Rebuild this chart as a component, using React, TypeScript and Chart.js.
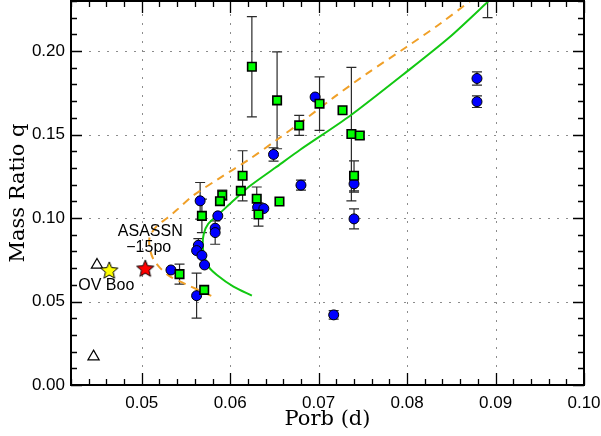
import { useEffect, useRef } from "react";
import { Chart, registerables } from "chart.js";

Chart.register(...registerables);

// ---- axis ticks ----
const xTicks = [0.05, 0.06, 0.07, 0.08, 0.09, 0.1];
const yTicks = [0.0, 0.05, 0.1, 0.15, 0.2];
const xMin = 0.042;
const xMax = 0.1;
const yMin = 0;
const yMax = 0.23;

// ---- blue circles: Porb, q, error ----
const blueP = [0.0879, 0.0879, 0.0696, 0.0649, 0.068, 0.0717, 0.074, 0.074, 0.0566, 0.0586, 0.0583, 0.0583, 0.0631, 0.0638, 0.0564, 0.0562, 0.0568, 0.0571, 0.0533, 0.0562];
const blueQ = [0.1836, 0.1697, 0.1725, 0.1381, 0.1197, 0.042, 0.1205, 0.0995, 0.1103, 0.1013, 0.0939, 0.0913, 0.1065, 0.1057, 0.0837, 0.0805, 0.0776, 0.0719, 0.0689, 0.0535];
const blueErr = [0.004, 0.0035, 0, 0.004, 0.003, 0.0025, 0.005, 0.006, 0.011, 0, 0, 0.007, 0, 0, 0.004, 0, 0, 0, 0, 0.0135];

// ---- green squares: Porb, q, error ----
const greenP = [0.06245, 0.0653, 0.0678, 0.0701, 0.0727, 0.0737, 0.07465, 0.074, 0.0614, 0.0612, 0.063, 0.0632, 0.06557, 0.0591, 0.05884, 0.0568, 0.05427, 0.05706, 0.0891];
const greenQ = [0.1906, 0.1705, 0.1555, 0.1685, 0.1646, 0.1503, 0.1494, 0.1253, 0.1253, 0.1163, 0.1116, 0.1021, 0.1099, 0.1137, 0.1101, 0.1013, 0.0664, 0.057, 0.245];
const greenErr = [0.03, 0.029, 0.006, 0.016, 0, 0.04, 0.002, 0.009, 0.015, 0, 0.007, 0.007, 0, 0.003, 0, 0.01, 0.006, 0, 0.025];

// ---- open triangles ----
const triP = [0.04494, 0.04455];
const triQ = [0.0719, 0.017];

// ---- stars ----
const redStarP = [0.0504];
const redStarQ = [0.07];
const yellowStarP = [0.04633];
const yellowStarQ = [0.0689];

// ---- model tracks ----
const greenCurveP = [0.06245, 0.06037, 0.0585, 0.05755, 0.05706, 0.05689, 0.05701, 0.05751, 0.05887, 0.06034, 0.06226, 0.06509, 0.06791, 0.07356, 0.07997, 0.08486, 0.08938];
const greenCurveQ = [0.0535, 0.0589, 0.0659, 0.0709, 0.0773, 0.0839, 0.0905, 0.0965, 0.1031, 0.1103, 0.1193, 0.1301, 0.1409, 0.1613, 0.1877, 0.2086, 0.2308];
const orangeCurveP = [0.05786, 0.05472, 0.05322, 0.05209, 0.0513, 0.0509, 0.0509, 0.05172, 0.05285, 0.05398, 0.05567, 0.05868, 0.06207, 0.06528, 0.06847, 0.07167, 0.07545, 0.07997, 0.08373, 0.08734];
const orangeCurveQ = [0.0534, 0.061, 0.0649, 0.07, 0.0755, 0.0821, 0.0887, 0.0953, 0.0999, 0.1049, 0.1129, 0.1235, 0.1349, 0.1469, 0.1592, 0.1721, 0.1865, 0.2026, 0.2164, 0.2308];

// ---- annotations ----
const noteText = ["ASASSN", "\u221215po", "OV Boo"];
const noteP = [0.05096, 0.05079, 0.04599];
const noteQ = [0.0917, 0.0821, 0.0594];

const xTitle = "Porb (d)";
const yTitle = "Mass Ratio q";

const pts = (xs: number[], ys: number[]) => xs.map((x, i) => ({ x, y: ys[i] }));

function makeStar(fill: string, R: number): HTMLCanvasElement {
  const c = document.createElement("canvas");
  const s = Math.ceil(2 * R + 4);
  c.width = s;
  c.height = s;
  const g = c.getContext("2d")!;
  const cx = s / 2;
  const cy = s / 2 + R * 0.1;
  g.beginPath();
  for (let k = 0; k < 10; k++) {
    const r = k % 2 ? R * 0.45 : R;
    const a = -Math.PI / 2 + (k * Math.PI) / 5;
    const px = cx + r * Math.cos(a);
    const py = cy + r * Math.sin(a);
    if (k === 0) g.moveTo(px, py);
    else g.lineTo(px, py);
  }
  g.closePath();
  g.fillStyle = fill;
  g.fill();
  g.lineWidth = 1;
  g.strokeStyle = "#000";
  g.stroke();
  return c;
}

const framePlugin = {
  id: "frame",
  beforeDatasetsDraw(chart: any) {
    const { ctx, chartArea: a, scales } = chart;
    const xs = scales.x;
    const ys = scales.y;
    ctx.save();
    // dotted grid
    ctx.strokeStyle = "#8c8c8c";
    ctx.lineWidth = 1;
    ctx.setLineDash([2, 7]);
    for (const v of xTicks) {
      const px = Math.round(xs.getPixelForValue(v)) + 0.5;
      if (px > a.right - 2) continue;
      ctx.beginPath();
      ctx.moveTo(px, a.bottom);
      ctx.lineTo(px, a.top);
      ctx.stroke();
    }
    for (const v of yTicks) {
      const py = Math.round(ys.getPixelForValue(v)) + 0.5;
      if (py > a.bottom - 2) continue;
      ctx.beginPath();
      ctx.moveTo(a.left, py);
      ctx.lineTo(a.right, py);
      ctx.stroke();
    }
    ctx.setLineDash([]);
    // error bars
    ctx.beginPath();
    ctx.rect(a.left, a.top, a.right - a.left, a.bottom - a.top);
    ctx.clip();
    ctx.strokeStyle = "#2a2a2a";
    ctx.lineWidth = 1.2;
    chart.data.datasets.forEach((ds: any, di: number) => {
      if (!ds.errs) return;
      const meta = chart.getDatasetMeta(di);
      ds.data.forEach((d: any, i: number) => {
        const e = ds.errs[i];
        if (!e) return;
        const el = meta.data[i];
        const px = el.x;
        const y1 = ys.getPixelForValue(d.y + e);
        const y2 = ys.getPixelForValue(d.y - e);
        ctx.beginPath();
        ctx.moveTo(px, y1);
        ctx.lineTo(px, y2);
        ctx.moveTo(px - 5, y1);
        ctx.lineTo(px + 5, y1);
        ctx.moveTo(px - 5, y2);
        ctx.lineTo(px + 5, y2);
        ctx.stroke();
      });
    });
    ctx.restore();
  },
  afterDatasetsDraw(chart: any) {
    const { ctx, chartArea: a, scales } = chart;
    const xs = scales.x;
    const ys = scales.y;
    ctx.save();
    // inward ticks on all four sides
    ctx.strokeStyle = "#000";
    ctx.lineWidth = 1.3;
    for (let i = 21; i <= 50; i++) {
      const v = i * 0.002;
      const major = i % 5 === 0;
      const L = major ? 12 : 6;
      const px = Math.round(xs.getPixelForValue(v)) + 0.5;
      ctx.beginPath();
      ctx.moveTo(px, a.bottom);
      ctx.lineTo(px, a.bottom - L);
      ctx.moveTo(px, a.top);
      ctx.lineTo(px, a.top + L);
      ctx.stroke();
    }
    for (let i = 0; i <= 23; i++) {
      const v = i * 0.01;
      const major = i % 5 === 0;
      const L = major ? 11 : 6;
      const py = Math.round(ys.getPixelForValue(v)) + 0.5;
      ctx.beginPath();
      ctx.moveTo(a.left, py);
      ctx.lineTo(a.left + L, py);
      ctx.moveTo(a.right, py);
      ctx.lineTo(a.right - L, py);
      ctx.stroke();
    }
    // frame
    ctx.lineWidth = 2;
    ctx.strokeRect(a.left, a.top, a.right - a.left, a.bottom - a.top);
    // annotations
    ctx.fillStyle = "#000";
    ctx.font = '16px "Liberation Sans", Arial, sans-serif';
    ctx.textAlign = "center";
    ctx.textBaseline = "middle";
    noteText.forEach((t, i) => {
      ctx.fillText(t, xs.getPixelForValue(noteP[i]), ys.getPixelForValue(noteQ[i]));
    });
    // axis titles
    ctx.font = '21px "DejaVu Serif", serif';
    ctx.textBaseline = "alphabetic";
    ctx.fillText(xTitle, (a.left + a.right) / 2, 425);
    ctx.translate(24, (a.top + a.bottom) / 2);
    ctx.rotate(-Math.PI / 2);
    ctx.fillText(yTitle, 0, 0);
    ctx.restore();
  },
};

export default function App() {
  const ref = useRef<HTMLCanvasElement>(null);
  useEffect(() => {
    const canvas = ref.current;
    if (!canvas) return;
    const redStar = makeStar("#ff0000", 9);
    const yellowStar = makeStar("#ffff00", 9);
    const tickFont = { family: '"Liberation Sans", Arial, sans-serif', size: 17 };
    const chart = new Chart(canvas, {
      type: "scatter",
      data: {
        datasets: [
          {
            data: pts(orangeCurveP, orangeCurveQ),
            showLine: true,
            borderColor: "#f0a028",
            borderWidth: 2,
            borderDash: [8, 6],
            pointRadius: 0,
            tension: 0.3,
            order: 10,
          } as any,
          {
            data: pts(greenCurveP, greenCurveQ),
            showLine: true,
            borderColor: "#12c812",
            borderWidth: 2,
            pointRadius: 0,
            tension: 0.25,
            order: 9,
          } as any,
          {
            data: pts(blueP, blueQ),
            errs: blueErr,
            pointStyle: "circle",
            pointRadius: 5,
            backgroundColor: "#0000ff",
            borderColor: "#000",
            borderWidth: 1,
            order: 5,
          } as any,
          {
            data: pts(greenP, greenQ),
            errs: greenErr,
            pointStyle: "rect",
            pointRadius: 6,
            backgroundColor: "#00ff00",
            borderColor: "#000",
            borderWidth: 1.6,
            order: 4,
          } as any,
          {
            data: pts(triP, triQ),
            pointStyle: "triangle",
            pointRadius: 6.5,
            backgroundColor: "rgba(255,255,255,0)",
            borderColor: "#000",
            borderWidth: 1.2,
            order: 3,
          } as any,
          {
            data: pts(redStarP, redStarQ),
            pointStyle: redStar,
            pointRadius: 9,
            order: 2,
          } as any,
          {
            data: pts(yellowStarP, yellowStarQ),
            pointStyle: yellowStar,
            pointRadius: 9,
            order: 2,
          } as any,
        ],
      },
      options: {
        animation: false,
        responsive: false,
        events: [],
        layout: { autoPadding: false, padding: { top: 1, right: 17, left: 0, bottom: 0 } },
        plugins: { legend: { display: false }, tooltip: { enabled: false } },
        scales: {
          x: {
            type: "linear",
            min: xMin,
            max: xMax,
            grid: { display: false, drawTicks: false },
            border: { display: false },
            afterBuildTicks: (s: any) => {
              s.ticks = xTicks.map((v) => ({ value: v }));
            },
            afterFit: (s: any) => {
              s.height = 51;
              s.paddingLeft = 0;
              s.paddingRight = 0;
            },
            ticks: {
              padding: 8,
              color: "#000",
              font: tickFont,
              autoSkip: false,
              maxRotation: 0,
              callback: (v: any) => Number(v).toFixed(2),
            },
          },
          y: {
            type: "linear",
            min: yMin,
            max: yMax,
            grid: { display: false, drawTicks: false },
            border: { display: false },
            afterBuildTicks: (s: any) => {
              s.ticks = yTicks.map((v) => ({ value: v }));
            },
            afterFit: (s: any) => {
              s.width = 71;
              s.paddingTop = 0;
              s.paddingBottom = 0;
            },
            ticks: {
              padding: 6,
              color: "#000",
              font: tickFont,
              autoSkip: false,
              callback: (v: any) => Number(v).toFixed(2),
            },
          },
        },
      } as any,
      plugins: [framePlugin],
    });
    return () => chart.destroy();
  }, []);
  return (
    <div style={{ position: "absolute", left: 0, top: 0, width: 601, height: 436 }}>
      <canvas ref={ref} width={601} height={436} style={{ display: "block", width: 601, height: 436 }} />
    </div>
  );
}
